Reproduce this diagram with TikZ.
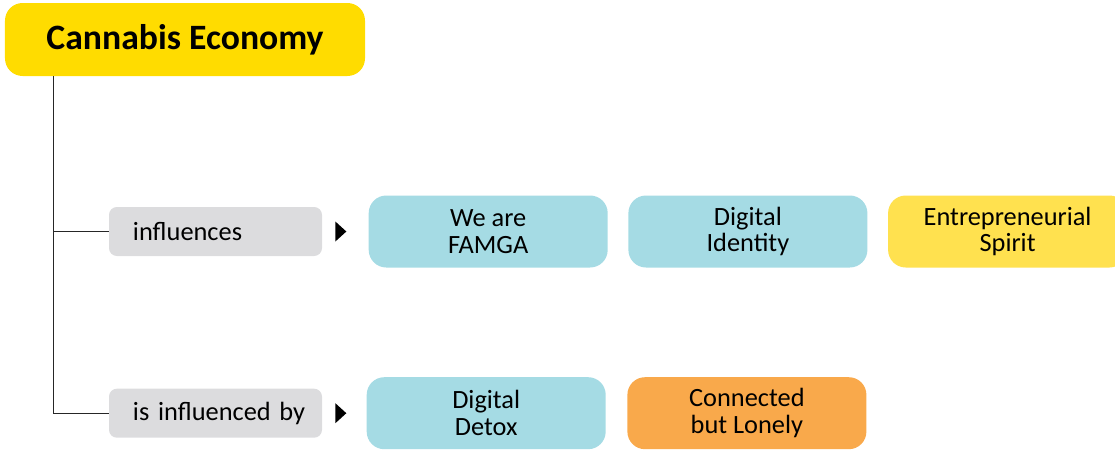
\documentclass[tikz,border=0pt]{standalone}
\usepackage{fontspec}
\setmainfont{Carlito}
\usetikzlibrary{positioning}

\definecolor{headyellow}{HTML}{FFDC00}
\definecolor{topicblue}{HTML}{A5DBE4}
\definecolor{topicyellow}{HTML}{FFE14F}
\definecolor{topicorange}{HTML}{F9A94B}
\definecolor{relgray}{HTML}{DCDCDE}

\begin{document}
\begin{tikzpicture}[
  node distance=0.4cm,
  headbox/.style={
    rectangle, rounded corners=10pt, fill=headyellow,
    minimum width=7.2cm, minimum height=1.46cm,
    font=\fontsize{20.3}{23}\selectfont\bfseries
  },
  relbox/.style={
    rectangle, rounded corners=4.5pt, fill=relgray,
    minimum height=0.98cm, inner xsep=0.3cm, text width=3.66cm,
    align=left, font=\fontsize{15}{17}\selectfont,
    execute at begin node={\hspace*{0.18cm}}
  },
  topic/.style={
    rectangle, rounded corners=10pt, fill=#1,
    minimum width=4.78cm, minimum height=1.44cm,
    align=center, font=\fontsize{15}{15.3}\selectfont
  },
  branch/.style={draw=black!85, line width=0.7pt},
  tip/.style={fill=black}
]
\useasboundingbox (0,0) rectangle (22.3,-9);

% Root
\node[headbox] (econ) at (3.7,-0.79) {Cannabis Economy};
\coordinate (trunk) at ([xshift=0.98cm]econ.south west);

% Relations
\node[relbox] (infl) at (4.31,-4.63) {influences};
\node[relbox, below=2.64cm of infl] (inflby) {is influenced by};

% Topics - influences
\node[topic=topicblue, right=0.92cm of infl] (famga) {We are\\FAMGA};
\node[topic=topicblue, right=of famga] (ident) {Digital\\Identity};
\node[topic=topicyellow, right=of ident] (spirit) {Entrepreneurial\\Spirit};

% Topics - is influenced by
\node[topic=topicblue, right=0.88cm of inflby] (detox) {Digital\\Detox};
\node[topic=topicorange, right=0.42cm of detox] (lonely) {Connected\\but Lonely};

% Branches
\draw[branch] (trunk) |- (infl.west);
\draw[branch] (trunk) |- (inflby.west);

% Pointers
\fill[tip] (infl.east) ++(0.26,0.2) -- ++(0.22,-0.2) -- ++(-0.22,-0.2) -- cycle;
\fill[tip] (inflby.east) ++(0.26,0.2) -- ++(0.22,-0.2) -- ++(-0.22,-0.2) -- cycle;

\end{tikzpicture}
\end{document}
